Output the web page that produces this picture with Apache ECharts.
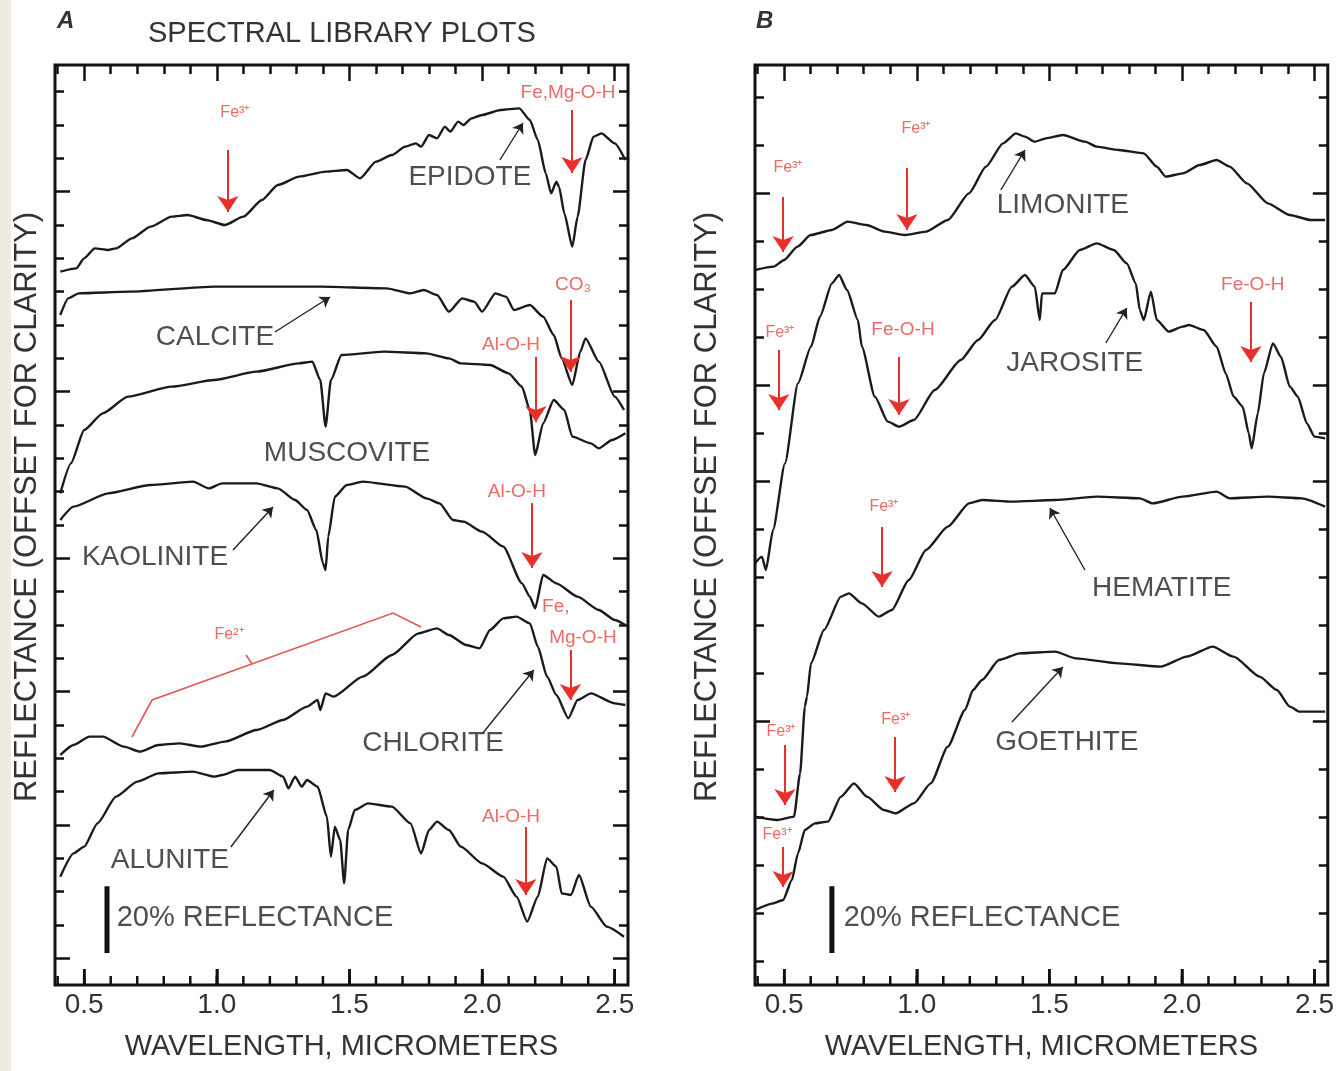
<!DOCTYPE html>
<html><head><meta charset="utf-8">
<script src="https://cdn.jsdelivr.net/npm/echarts@6/dist/echarts.min.js"></script>
<style>html,body{margin:0;padding:0;background:#fff;}#c{width:1337px;height:1071px;}</style>
</head><body><div id="c"></div>
<script>
// ---------- tick values ----------
const xMajorTicks = [0.5, 1.0, 1.5, 2.0, 2.5];
const xMinorTicks = [0.4,0.5,0.6,0.7,0.8,0.9,1.0,1.1,1.2,1.3,1.4,1.5,1.6,1.7,1.8,1.9,2.0,2.1,2.2,2.3,2.4,2.5];
const xLabelValues = [0.5, 1.0, 1.5, 2.0, 2.5];
const yMinorTicksA = [8,18,28,38,48,58,68,78,88,98,108,118,128,138,148,158,168,178,188,198,208,218,228,238,248,258,268];
const yMajorTicksA = [8,48,88,128,178,238];
const yMinorTicksB = [7.2,21.6,36,50.4,64.8,79.2,93.6,108,122.4,136.8,151.2,165.6,180,194.4,208.8,223.2,237.6,252,266.4];
const yMajorTicksB = [79.2,151.2,180,237.6];

// ---------- panel A spectra (wavelength µm, reflectance % offset) ----------
const epidote = [[0.41,214],[0.47,215],[0.50,218],[0.54,221],[0.59,220.5],[0.62,221],[0.68,224],[0.75,227.5],[0.83,230.5],[0.89,231],[0.96,229.5],[1.03,228],[1.10,230.5],[1.17,235.5],[1.23,240],[1.31,242.5],[1.41,244],[1.49,244.5],[1.54,242],[1.60,247],[1.66,249],[1.71,251.5],[1.75,252.5],[1.77,251.5],[1.80,255],[1.83,254],[1.86,257.5],[1.88,256],[1.91,259],[1.93,258],[1.96,260],[2.00,261],[2.07,262.5],[2.14,263],[2.18,259.5],[2.21,253.5],[2.24,243.5],[2.26,237.5],[2.28,241],[2.29,239.5],[2.31,231.5],[2.34,221.5],[2.36,230.5],[2.39,247.5],[2.42,254.5],[2.45,255.5],[2.50,252.5],[2.54,247.5]];
const calcite = [[0.41,201],[0.44,206],[0.48,207.5],[0.67,208],[0.99,209.5],[1.39,209.5],[1.64,209],[1.73,207.5],[1.78,208.5],[1.83,207],[1.875,202],[1.925,206],[1.97,205],[2.00,202],[2.05,207.5],[2.09,206.5],[2.12,202.5],[2.18,204],[2.23,200.5],[2.27,195],[2.30,188],[2.34,180],[2.37,190],[2.39,194],[2.44,187],[2.50,176.5],[2.535,172.5]];
const muscovite = [[0.41,147.5],[0.45,156.5],[0.50,166.5],[0.57,171.5],[0.665,176.5],[0.83,179.5],[0.99,181.5],[1.15,184],[1.31,186.5],[1.36,187],[1.39,181.5],[1.41,167.5],[1.43,181.5],[1.47,189],[1.63,190],[1.79,189.5],[1.875,188],[1.92,186.5],[2.03,186],[2.10,183.5],[2.15,179.5],[2.18,172.5],[2.20,159],[2.23,168.5],[2.27,175.5],[2.31,172.5],[2.34,164.5],[2.41,162.5],[2.44,161],[2.49,163.5],[2.54,165.5]];
const kaolinite = [[0.41,139.5],[0.46,143.5],[0.59,147.5],[0.75,150],[0.91,151],[0.97,149],[1.02,150.5],[1.15,150.5],[1.23,149],[1.295,145.5],[1.34,142.5],[1.375,136.5],[1.40,126.5],[1.41,124.5],[1.42,134.5],[1.445,146.5],[1.49,150],[1.55,151],[1.71,149.5],[1.79,146],[1.84,144.5],[1.89,139.5],[1.93,139],[2.00,136],[2.08,131.5],[2.15,120.5],[2.18,116.5],[2.20,113],[2.23,123],[2.28,120.5],[2.36,116.5],[2.44,112.5],[2.50,109.5],[2.54,108]];
const chlorite = [[0.41,69],[0.46,72],[0.52,74.5],[0.57,74.5],[0.65,71.5],[0.71,70],[0.78,72],[0.86,72.5],[0.94,71.5],[1.03,73],[1.15,76.5],[1.25,79.5],[1.34,83.5],[1.38,85.5],[1.39,82.5],[1.41,87.5],[1.44,86.5],[1.55,92.5],[1.66,99],[1.76,105.5],[1.83,107],[1.875,105],[1.94,102],[1.99,101],[2.03,106.5],[2.08,110],[2.13,110.5],[2.18,108.5],[2.21,101.5],[2.245,92.5],[2.28,87],[2.325,80],[2.36,85.5],[2.41,87.5],[2.50,84.5],[2.54,84]];
const alunite = [[0.41,32.5],[0.46,39.5],[0.50,41.5],[0.55,48.5],[0.62,56.5],[0.70,61],[0.78,63.5],[0.91,64],[0.99,62.5],[1.02,63],[1.08,64.5],[1.20,64.5],[1.25,62.5],[1.27,59],[1.295,62.5],[1.32,59.5],[1.34,61.5],[1.38,59.5],[1.415,50.5],[1.43,38.5],[1.445,47.5],[1.465,43.5],[1.48,30.5],[1.495,46.5],[1.52,52.5],[1.57,54.5],[1.66,53.5],[1.73,48.5],[1.77,39.5],[1.80,46.5],[1.83,49],[1.875,46.5],[1.92,41.5],[2.00,36.5],[2.08,32.5],[2.13,26.5],[2.17,19],[2.21,26.5],[2.245,38],[2.28,35.5],[2.30,27.5],[2.335,27],[2.365,33],[2.41,23.5],[2.47,17.5],[2.535,14.5]];

// ---------- panel B spectra ----------
const limonite = [[0.39,214.5],[0.46,215.5],[0.50,217.5],[0.55,221.5],[0.60,225],[0.68,226.5],[0.74,229],[0.81,228],[0.88,226],[0.955,225],[1.035,226],[1.117,229.5],[1.197,237.5],[1.261,245.5],[1.325,252.5],[1.374,255.5],[1.408,254.5],[1.445,253],[1.487,254],[1.551,255],[1.634,253],[1.679,251.5],[1.762,250.5],[1.856,249.5],[1.905,245.5],[1.939,242.5],[2.003,243.5],[2.067,246],[2.131,247.5],[2.18,245.5],[2.245,240.5],[2.324,234.5],[2.407,231],[2.485,229.5],[2.54,229.5]];
const jarosite = [[0.39,126.5],[0.416,128.5],[0.431,124.5],[0.458,136.5],[0.503,156.5],[0.552,180.5],[0.601,191.5],[0.635,200.5],[0.68,210.5],[0.707,213],[0.737,208.5],[0.778,199.5],[0.793,191.5],[0.842,176.5],[0.891,169],[0.933,167.5],[0.989,169.5],[1.068,178.5],[1.166,187.5],[1.231,193.5],[1.295,199.5],[1.359,209.5],[1.408,213],[1.445,209.5],[1.464,199.5],[1.472,207.5],[1.521,207.5],[1.551,214.5],[1.615,220.5],[1.679,222.5],[1.743,220.5],[1.792,216.5],[1.826,210.5],[1.841,202.5],[1.856,199.5],[1.883,208],[1.905,199.5],[1.95,196],[2.003,197.5],[2.026,198],[2.082,196.5],[2.131,191.5],[2.165,183.5],[2.195,176.5],[2.229,173.5],[2.252,165.5],[2.263,161],[2.286,171.5],[2.309,183.5],[2.343,192.5],[2.373,188.5],[2.407,179.5],[2.437,176.5],[2.471,168.5],[2.50,164.5],[2.54,164]];
const hematite = [[0.39,50.5],[0.473,49.5],[0.537,50.5],[0.56,63.5],[0.578,83.5],[0.586,86.5],[0.601,96.5],[0.65,106.5],[0.714,116.5],[0.744,117.5],[0.793,114.5],[0.857,110.5],[0.906,112.5],[0.97,121.5],[1.035,130.5],[1.117,137.5],[1.197,144.5],[1.246,145.5],[1.359,145],[1.521,145.5],[1.679,146.5],[1.841,146],[1.89,144.5],[2.003,146.5],[2.131,148],[2.18,146],[2.324,146.5],[2.452,146],[2.54,143.5]];
const goethite = [[0.39,22.5],[0.458,24.5],[0.496,25.5],[0.529,31.5],[0.552,39.5],[0.578,46.5],[0.616,48.5],[0.665,49],[0.714,56.5],[0.763,60.5],[0.812,56.5],[0.876,52.5],[0.921,51.5],[0.989,54.5],[1.053,60.5],[1.117,71.5],[1.182,82.5],[1.212,88.5],[1.246,91.5],[1.31,97.5],[1.389,99.5],[1.521,100],[1.60,98],[1.762,96.5],[1.92,95.5],[2.018,98.5],[2.116,101.5],[2.195,98.5],[2.293,92.5],[2.358,88.5],[2.407,83.5],[2.444,82],[2.54,82]];

// ---------- annotations (data coordinates) ----------
const mineralLabelsA = [['EPIDOTE',1.954,242.4],['CALCITE',0.993,194.4],['MUSCOVITE',1.491,159.6],['KAOLINITE',0.767,128.4],['CHLORITE',1.815,72.6],['ALUNITE',0.823,37.5]];
const mineralLabelsB = [['LIMONITE',1.551,234],['JAROSITE',1.596,186.6],['HEMATITE',1.924,119.1],['GOETHITE',1.566,72.9]];
const blackArrowsA = [[2.067,247.5,2.154,258.6],[1.219,195.9,1.427,206.4],[1.061,130.5,1.212,143.4],[2.003,75.6,2.195,94.5],[1.053,41.4,1.215,58.5]];
const blackArrowsB = [[1.317,238.5,1.408,250.5],[1.713,192.6,1.792,203.1],[1.634,124.5,1.502,143.1],[1.359,78.9,1.551,95.4]];
const redArrowsA = [[1.042,250.5,1.042,231.9],[2.339,262.5,2.339,243.6],[2.333,205.5,2.333,183.9],[2.203,188.4,2.203,168.9],[2.188,144.6,2.188,125.1],[2.333,100.5,2.333,85.5],[2.165,47.4,2.165,27]];
const redLabelsA = [['Fe³⁺',1.068,261.6],['Fe,Mg-O-H',2.324,267.6],['CO₃',2.343,210],['Al-O-H',2.109,192],['Al-O-H',2.131,147.9],['Fe,',2.278,113.4],['Mg-O-H',2.380,104.1],['Fe²⁺',1.046,105],['Al-O-H',2.109,50.4]];
const redArrowsB = [[0.496,236.4,0.496,219.9],[0.963,245.1,0.963,226.5],[0.48,190.5,0.48,172.5],[0.933,188.4,0.933,171],[2.26,204.9,2.26,186.9],[0.869,137.4,0.869,119.4],[0.503,72,0.503,54],[0.918,74.4,0.918,57.9],[0.496,41.4,0.496,29.4]];
const redLabelsB = [['Fe³⁺',0.514,245.1],['Fe³⁺',0.997,257],['Fe³⁺',0.484,195.6],['Fe-O-H',0.948,196.5],['Fe-O-H',2.267,210],['Fe³⁺',0.876,143.4],['Fe³⁺',0.488,75.9],['Fe³⁺',0.921,79.5],['Fe³⁺',0.473,45]];
const fe2Bracket = [[0.680,74.4],[0.756,85.5],[1.664,111.6],[1.770,107.4]];
const fe2Tick = [[1.133,96.3],[1.110,99]];
const scaleBarA = [[0.586,9.6],[0.586,29.6]];
const scaleBarB = [[0.68,9.6],[0.68,29.6]];
const scaleTextA = [['20% REFLECTANCE',1.144,20.1]];
const scaleTextB = [['20% REFLECTANCE',1.246,20.1]];

// ---------- build ----------
const FONT = "'Liberation Sans', Arial, sans-serif";
const INK = '#1a1a1a';
const RED = '#e8302a';
const RED_TXT = '#e2473f';
const PLOT_H = 920, Y_MAX = 276;

function xAxesFor(gi) {
  const base = {type:'value', gridIndex:gi, min:0.39, max:2.55, axisLine:{show:false, onZero:false}, splitLine:{show:false}};
  const ls = {color:'#111', width:2.5};
  return [
    Object.assign({}, base, {position:'bottom',
      axisTick:{show:true, inside:true, length:16, customValues:xMajorTicks.slice(), lineStyle:ls},
      axisLabel:{show:true, customValues:xLabelValues.slice(), formatter:v=>v.toFixed(1), fontSize:28, color:'#333', margin:6, fontFamily:FONT},
      name:'WAVELENGTH, MICROMETERS', nameLocation:'middle', nameGap:47,
      nameTextStyle:{fontSize:29, color:'#333', fontFamily:FONT}}),
    Object.assign({}, base, {position:'top', axisTick:{show:true, inside:true, length:16, customValues:xMajorTicks.slice(), lineStyle:ls}, axisLabel:{show:false}}),
    Object.assign({}, base, {position:'top', axisTick:{show:true, inside:true, length:9, customValues:xMinorTicks.slice(), lineStyle:ls}, axisLabel:{show:false}})
  ];
}
const NX = 3; // x axes per grid
function yAxesFor(gi, major, minor) {
  const base = {type:'value', gridIndex:gi, min:0, max:Y_MAX, axisLine:{show:false, onZero:false}, splitLine:{show:false}, axisLabel:{show:false}};
  const ls = {color:'#111', width:2.5};
  return [
    Object.assign({}, base, {position:'left', axisTick:{show:true, inside:true, length:15, customValues:major.slice(), lineStyle:ls}}),
    Object.assign({}, base, {position:'left', axisTick:{show:true, inside:true, length:9, customValues:minor.slice(), lineStyle:ls}}),
    Object.assign({}, base, {position:'right', axisTick:{show:true, inside:true, length:15, customValues:major.slice(), lineStyle:ls}}),
    Object.assign({}, base, {position:'right', axisTick:{show:true, inside:true, length:9, customValues:minor.slice(), lineStyle:ls}})
  ];
}
const NY = 4;
const ax = gi => ({xAxisIndex:gi*NX, yAxisIndex:gi*NY});

function curve(name, data, gi) {
  return Object.assign({type:'line', name:name, data:data, symbol:'none',
    smooth:0.2, smoothMonotone:'x', lineStyle:{color:INK, width:2.4}, z:3, silent:true, animation:false}, ax(gi));
}
function textSeries(arr, gi, color, size) {
  return Object.assign({type:'scatter', symbolSize:1, itemStyle:{color:'rgba(0,0,0,0)'},
    silent:true, animation:false, z:6,
    data: arr.map(a => ({value:[a[1], a[2]], name:a[0]})),
    label:{show:true, position:'inside', formatter:'{b}', color:color, fontFamily:FONT, fontSize:size}}, ax(gi));
}
function arrows(arr, gi, color, width, head) {
  return Object.assign({type:'lines', coordinateSystem:'cartesian2d',
    symbol:['none','arrow'], symbolSize:[0, head], silent:true, animation:false, z:5,
    lineStyle:{color:color, width:width, opacity:1, type:'solid'},
    data: arr.map(a => ({coords:[[a[0],a[1]],[a[2],a[3]]]}))}, ax(gi));
}
function polyline(pts, gi, color, width) {
  return Object.assign({type:'lines', coordinateSystem:'cartesian2d', polyline:true,
    symbol:'none', silent:true, animation:false, z:5, lineStyle:{color:color, width:width, opacity:1},
    data:[{coords:pts}]}, ax(gi));
}
// bottom-edge minor tick marks: custom series positioned through the x scale
function bottomTickSeries(values, gi, lenPx) {
  return Object.assign({type:'custom', coordinateSystem:'cartesian2d', clip:false, silent:true, animation:false, z:20,
    data: values.map(v => [v, 0]), encode:{x:0, y:1},
    renderItem: function (params, api) {
      const p = api.coord([api.value(0), 0]);
      return {type:'line', shape:{x1:p[0], y1:p[1] - 1, x2:p[0], y2:p[1] - lenPx},
        style:{stroke:'#111', lineWidth:2.5}};
    }}, ax(gi));
}

const series = [
  curve('Epidote', epidote, 0), curve('Calcite', calcite, 0), curve('Muscovite', muscovite, 0),
  curve('Kaolinite', kaolinite, 0), curve('Chlorite', chlorite, 0), curve('Alunite', alunite, 0),
  curve('Limonite', limonite, 1), curve('Jarosite', jarosite, 1), curve('Hematite', hematite, 1), curve('Goethite', goethite, 1),
  textSeries(mineralLabelsA, 0, '#222', 28), textSeries(mineralLabelsB, 1, '#222', 28),
  textSeries(scaleTextA, 0, '#222', 29), textSeries(scaleTextB, 1, '#222', 29),
  arrows(blackArrowsA, 0, '#222', 1.4, 10), arrows(blackArrowsB, 1, '#222', 1.4, 10),
  arrows(redArrowsA, 0, RED, 2, 16), arrows(redArrowsB, 1, RED, 2, 16),
  polyline(fe2Bracket, 0, '#e35a55', 1.6), polyline(fe2Tick, 0, '#e35a55', 1.6),
  polyline(scaleBarA, 0, '#111', 5), polyline(scaleBarB, 1, '#111', 5),
  bottomTickSeries(xMinorTicks, 0, 9), bottomTickSeries(xMinorTicks, 1, 9),
  bottomTickSeries(xMajorTicks, 0, 16), bottomTickSeries(xMajorTicks, 1, 16)
];
const smallRed = (arr) => arr.filter(a => a[0].indexOf('⁺') >= 0);
const bigRed = (arr) => arr.filter(a => a[0].indexOf('⁺') < 0);
series.push(textSeries(smallRed(redLabelsA), 0, RED_TXT, 16));
series.push(textSeries(bigRed(redLabelsA), 0, RED_TXT, 19));
series.push(textSeries(smallRed(redLabelsB), 1, RED_TXT, 16));
series.push(textSeries(bigRed(redLabelsB), 1, RED_TXT, 19));

const chart = echarts.init(document.getElementById('c'), null, {renderer:'canvas'});
chart.setOption({
  animation:false,
  title:[
    {text:'SPECTRAL LIBRARY PLOTS', left:148, top:19, padding:0, textStyle:{fontSize:29, fontWeight:'normal', color:'#333', fontFamily:FONT}},
    {text:'A', left:57, top:9, padding:0, textStyle:{fontSize:24, fontWeight:'bold', fontStyle:'italic', color:'#333', fontFamily:FONT}},
    {text:'B', left:756, top:9, padding:0, textStyle:{fontSize:24, fontWeight:'bold', fontStyle:'italic', color:'#333', fontFamily:FONT}}
  ],
  grid:[
    {left:55, top:65, width:573, height:PLOT_H, show:true, borderColor:'#111', borderWidth:3},
    {left:755, top:65, width:573, height:PLOT_H, show:true, borderColor:'#111', borderWidth:3}
  ],
  xAxis: xAxesFor(0).concat(xAxesFor(1)),
  yAxis: yAxesFor(0, yMajorTicksA, yMinorTicksA).concat(yAxesFor(1, yMajorTicksB, yMinorTicksB)),
  graphic:[
    {id:'strip', type:'rect', left:0, top:0, shape:{width:11, height:1071}, style:{fill:'#eeebe1'}, silent:true},
    {id:'ytA', type:'text', x:27, y:507, rotation:Math.PI/2, silent:true,
      style:{text:'REFLECTANCE (OFFSET FOR CLARITY)', fill:'#333', font:'31px ' + FONT, align:'center', verticalAlign:'middle'}},
    {id:'ytB', type:'text', x:707, y:507, rotation:Math.PI/2, silent:true,
      style:{text:'REFLECTANCE (OFFSET FOR CLARITY)', fill:'#333', font:'31px ' + FONT, align:'center', verticalAlign:'middle'}}
  ],
  series: series
});
</script>
</body></html>
